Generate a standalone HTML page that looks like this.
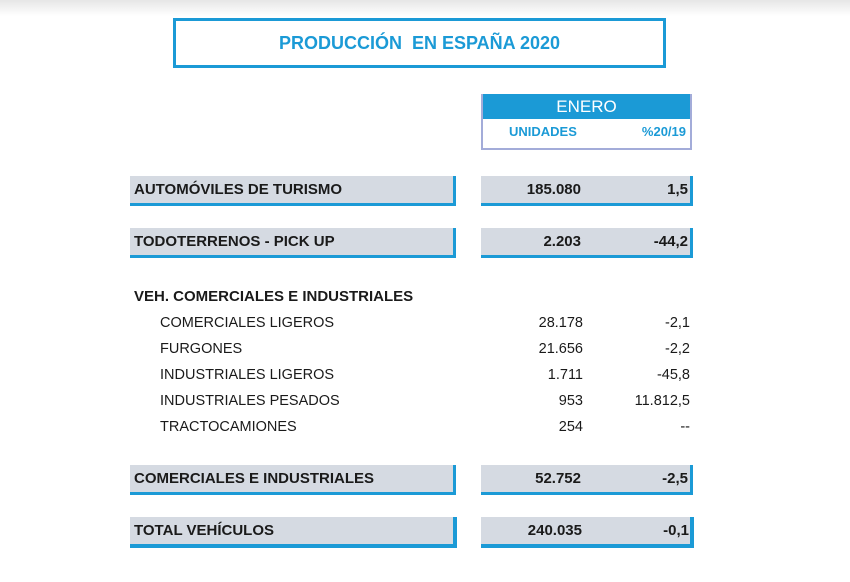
<!DOCTYPE html>
<html><head><meta charset="utf-8">
<style>
body{margin:0;width:850px;height:582px;background:#fff;position:relative;overflow:hidden;font-family:"Liberation Sans",sans-serif;color:#1a1a1a}
.abs{position:absolute}
.topbar{left:0;top:0;width:850px;height:16px;background:linear-gradient(#e6e6e6,#fff)}
.title{left:173px;top:18px;width:487px;height:44px;border:3px solid #1b9ad6;color:#1b9ad6;font-size:18px;font-weight:bold;text-align:center;line-height:44px}
.hdr{left:481px;top:94px;width:207px;height:54px;border:2px solid #a3acd9;border-top:none}
.hdr .blue{position:absolute;left:0;top:0;width:207px;height:25px;background:#1b9ad6;color:#fff;font-size:17px;text-align:center;line-height:26px}
.hdr .sub{position:absolute;top:30px;color:#1b9ad6;font-size:13px;font-weight:bold}
.bar{background:#d5dae2;border-bottom:3px solid #1b9ad6;border-right:3px solid #1b9ad6;box-sizing:border-box;font-size:15px;font-weight:bold;line-height:27px}
.lbl{padding-left:4px}
.num{position:absolute;text-align:right}
.det{font-size:14.5px}
</style></head><body>
<div class="abs topbar"></div>
<div class="abs title">PRODUCCIÓN&nbsp; EN ESPAÑA 2020</div>
<div class="abs hdr">
 <div class="blue">ENERO</div>
 <div class="sub" style="left:26px">UNIDADES</div>
 <div class="sub" style="right:4px">%20/19</div>
</div>

<div class="abs bar lbl" style="left:130px;top:176px;width:326px;height:30px">AUTOMÓVILES DE TURISMO</div>
<div class="abs bar" style="left:481px;top:176px;width:212px;height:30px"><span class="num" style="right:109px">185.080</span><span class="num" style="right:2px">1,5</span></div>

<div class="abs bar lbl" style="left:130px;top:228px;width:326px;height:30px">TODOTERRENOS - PICK UP</div>
<div class="abs bar" style="left:481px;top:228px;width:212px;height:30px"><span class="num" style="right:109px">2.203</span><span class="num" style="right:2px">-44,2</span></div>

<div class="abs" style="left:134px;top:288px;font-size:15px;font-weight:bold">VEH. COMERCIALES E INDUSTRIALES</div>

<div class="abs det" style="left:160px;top:315px">COMERCIALES LIGEROS</div>
<div class="abs det num" style="right:267px;top:315px">28.178</div>
<div class="abs det num" style="right:160px;top:315px">-2,1</div>

<div class="abs det" style="left:160px;top:341px">FURGONES</div>
<div class="abs det num" style="right:267px;top:341px">21.656</div>
<div class="abs det num" style="right:160px;top:341px">-2,2</div>

<div class="abs det" style="left:160px;top:367px">INDUSTRIALES LIGEROS</div>
<div class="abs det num" style="right:267px;top:367px">1.711</div>
<div class="abs det num" style="right:160px;top:367px">-45,8</div>

<div class="abs det" style="left:160px;top:393px">INDUSTRIALES PESADOS</div>
<div class="abs det num" style="right:267px;top:393px">953</div>
<div class="abs det num" style="right:160px;top:393px">11.812,5</div>

<div class="abs det" style="left:160px;top:419px">TRACTOCAMIONES</div>
<div class="abs det num" style="right:267px;top:419px">254</div>
<div class="abs det num" style="right:160px;top:419px">--</div>

<div class="abs bar lbl" style="left:130px;top:465px;width:326px;height:30px">COMERCIALES E INDUSTRIALES</div>
<div class="abs bar" style="left:481px;top:465px;width:212px;height:30px"><span class="num" style="right:109px">52.752</span><span class="num" style="right:2px">-2,5</span></div>

<div class="abs bar lbl" style="left:130px;top:517px;width:327px;height:31px;border-width:0 4px 4px 0">TOTAL VEHÍCULOS</div>
<div class="abs bar" style="left:481px;top:517px;width:213px;height:31px;border-width:0 4px 4px 0"><span class="num" style="right:108px">240.035</span><span class="num" style="right:1px">-0,1</span></div>
</body></html>
